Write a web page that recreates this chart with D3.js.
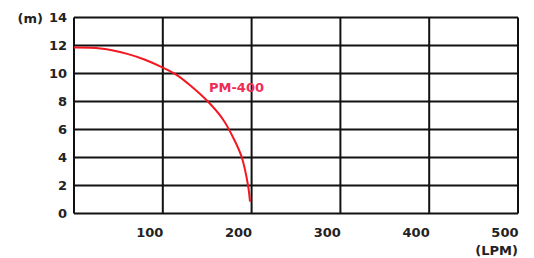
<!DOCTYPE html>
<html>
<head>
<meta charset="utf-8">
<script src="https://cdn.jsdelivr.net/npm/d3@7"></script>
<style>
  body { margin: 0; background: #fff; }
  text { font-family: "DejaVu Sans", sans-serif; font-weight: bold; }
</style>
</head>
<body>
<svg id="drawing_region"></svg>
<script>
// flow (LPM) vs head (m)
const flow = [0, 30, 60, 80, 100, 115, 130, 150, 168, 181, 189, 196, 198.2];
const head = [11.85, 11.78, 11.4, 10.98, 10.42, 9.92, 9.2, 8.05, 6.7, 5.2, 4.0, 2.0, 0.85];
const x_ticks = [100, 200, 300, 400, 500];
const y_ticks = [0, 2, 4, 6, 8, 10, 12, 14];
const series_name = "PM-400";

var config = {
    parent: '#drawing_region',
    width: 534,
    height: 258,
    margin: {top:17.5, right:16, bottom:44.5, left:74}
};

const data = flow.map( (f, i) => ({ x: f, y: head[i] }) );

const svg = d3.select( config.parent )
    .attr('width', config.width)
    .attr('height', config.height);

const chart = svg.append('g')
    .attr('transform', `translate(${config.margin.left}, ${config.margin.top})`);

const inner_width = config.width - config.margin.left - config.margin.right;
const inner_height = config.height - config.margin.top - config.margin.bottom;

const xscale = d3.scaleLinear().domain([0, 500]).range([0, inner_width]);
const yscale = d3.scaleLinear().domain([0, 14]).range([inner_height, 0]);

// grid
chart.append('g')
    .selectAll('line')
    .data(y_ticks)
    .join('line')
    .attr('x1', 0).attr('x2', inner_width)
    .attr('y1', d => yscale(d)).attr('y2', d => yscale(d))
    .attr('stroke', '#111').attr('stroke-width', 2);

chart.append('g')
    .selectAll('line')
    .data([0].concat(x_ticks))
    .join('line')
    .attr('x1', d => xscale(d)).attr('x2', d => xscale(d))
    .attr('y1', 0).attr('y2', inner_height)
    .attr('stroke', '#111').attr('stroke-width', 2);

// axes labels
const xaxis = d3.axisBottom( xscale ).tickValues(x_ticks).tickSize(0).tickPadding(0);
chart.append('g')
    .attr('transform', `translate(0, ${inner_height})`)
    .call( xaxis )
    .call( g => g.select('.domain').remove() )
    .selectAll('text')
    .attr('text-anchor', 'end')
    .attr('dy', null)
    .attr('y', 23)
    .attr('font-size', '13px')
    .attr('fill', '#222');

const yaxis = d3.axisLeft( yscale ).tickValues(y_ticks).tickSize(0).tickPadding(7);
chart.append('g')
    .call( yaxis )
    .call( g => g.select('.domain').remove() )
    .selectAll('text')
    .attr('font-size', '13px')
    .attr('fill', '#222');

chart.append('text')
    .attr('x', -31)
    .attr('y', 5)
    .attr('text-anchor', 'end')
    .attr('font-size', '13px')
    .attr('fill', '#222')
    .text('(m)');

chart.append('text')
    .attr('x', inner_width)
    .attr('y', inner_height + 41)
    .attr('text-anchor', 'end')
    .attr('font-size', '13px')
    .attr('fill', '#222')
    .text('(LPM)');

// curve
const line = d3.line()
    .x( d => xscale(d.x) )
    .y( d => yscale(d.y) )
    .curve( d3.curveCatmullRom.alpha(0.5) );

chart.append('path')
    .datum(data)
    .attr('d', line)
    .attr('fill', 'none')
    .attr('stroke', '#f41620')
    .attr('stroke-width', 2);

chart.append('text')
    .attr('x', xscale(183))
    .attr('y', yscale(8.7))
    .attr('text-anchor', 'middle')
    .attr('font-size', '13px')
    .attr('fill', '#ee2d55')
    .text(series_name);
</script>
</body>
</html>
